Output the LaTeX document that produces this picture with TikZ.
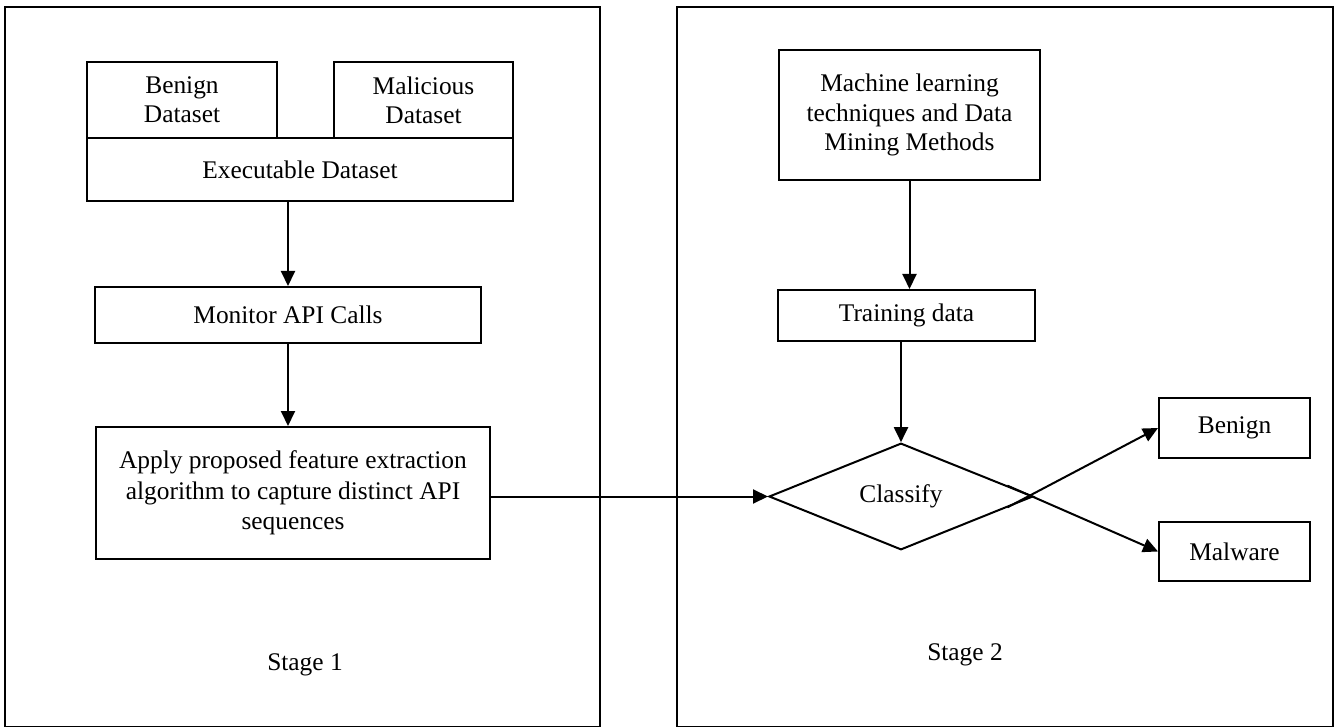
\documentclass[tikz,border=0pt]{standalone}
\usepackage{fontspec}
\setmainfont{Liberation Serif}
\usetikzlibrary{arrows.meta,shapes.geometric,calc}
\tikzset{
  box/.style={draw,line width=1pt,align=center,inner sep=2pt,
    font=\fontsize{12.7}{14.6}\selectfont},
  flow/.style={line width=1pt,-{Triangle[length=7.5pt,width=7pt]}},
  frame/.style={draw,line width=1.1pt}
}
\begin{document}
\begin{tikzpicture}[x=0.5pt,y=-0.5pt]
      \useasboundingbox (0,0) rectangle (1334,727);
      \draw[frame] (5,7) rectangle (600,727);
      \draw[frame] (677,7) rectangle (1333,727);
      \node[box,minimum width=95pt,minimum height=38pt] (benign) at (182,100) {Benign\\Dataset};
      \node[box,minimum width=89.5pt,minimum height=38pt] (malicious) at (423.5,100) {Malicious\\Dataset};
      \node[box,minimum width=213pt,minimum height=31.5pt] (exec) at (300,169.5) {Executable Dataset};
      \node[box,minimum width=193pt,minimum height=28pt] (monitor) at (288,315) {Monitor API Calls};
      \node[box,minimum width=197pt,minimum height=66pt,font=\fontsize{12.7}{15.2}\selectfont] (apply) at (293,493)
        {Apply proposed feature extraction\\algorithm to capture distinct API\\sequences};
      \node[box,minimum width=130.5pt,minimum height=65pt] (ml) at (909.5,115)
        {Machine learning\\techniques and Data\\Mining Methods};
      \node[box,minimum width=128.5pt,minimum height=25.5pt] (train) at (906.5,315.5) {Training data};
      \node[box,diamond,inner sep=0pt,minimum width=132pt,minimum height=48pt] (cls) at (901,496.5) {Classify};
      \node[box,minimum width=75.5pt,minimum height=30pt] (outbenign) at (1234.5,428) {Benign};
      \node[box,minimum width=75.5pt,minimum height=29.5pt] (outmalware) at (1234.5,551.5) {Malware};
      \node[font=\fontsize{12.7}{14.6}\selectfont] (stage1) at (305,665) {Stage 1};
      \node[font=\fontsize{12.7}{14.6}\selectfont] (stage2) at (965,655) {Stage 2};
      \draw[flow] (exec.south -| monitor.north) -- (monitor.north);
      \draw[flow] (monitor.south) -- (monitor.south |- apply.north);
      \draw[flow] (apply.east |- cls.west) -- (cls.west);
      \draw[flow] (ml.south) -- (ml.south |- train.north);
      \draw[flow] (train.south -| cls.north) -- (cls.north);
      \draw[flow] ($(cls.east)!0.2!(cls.south)$) -- (outbenign.west);
      \draw[flow] ($(cls.east)!0.2!(cls.north)$) -- (outmalware.west);
\end{tikzpicture}
\end{document}
